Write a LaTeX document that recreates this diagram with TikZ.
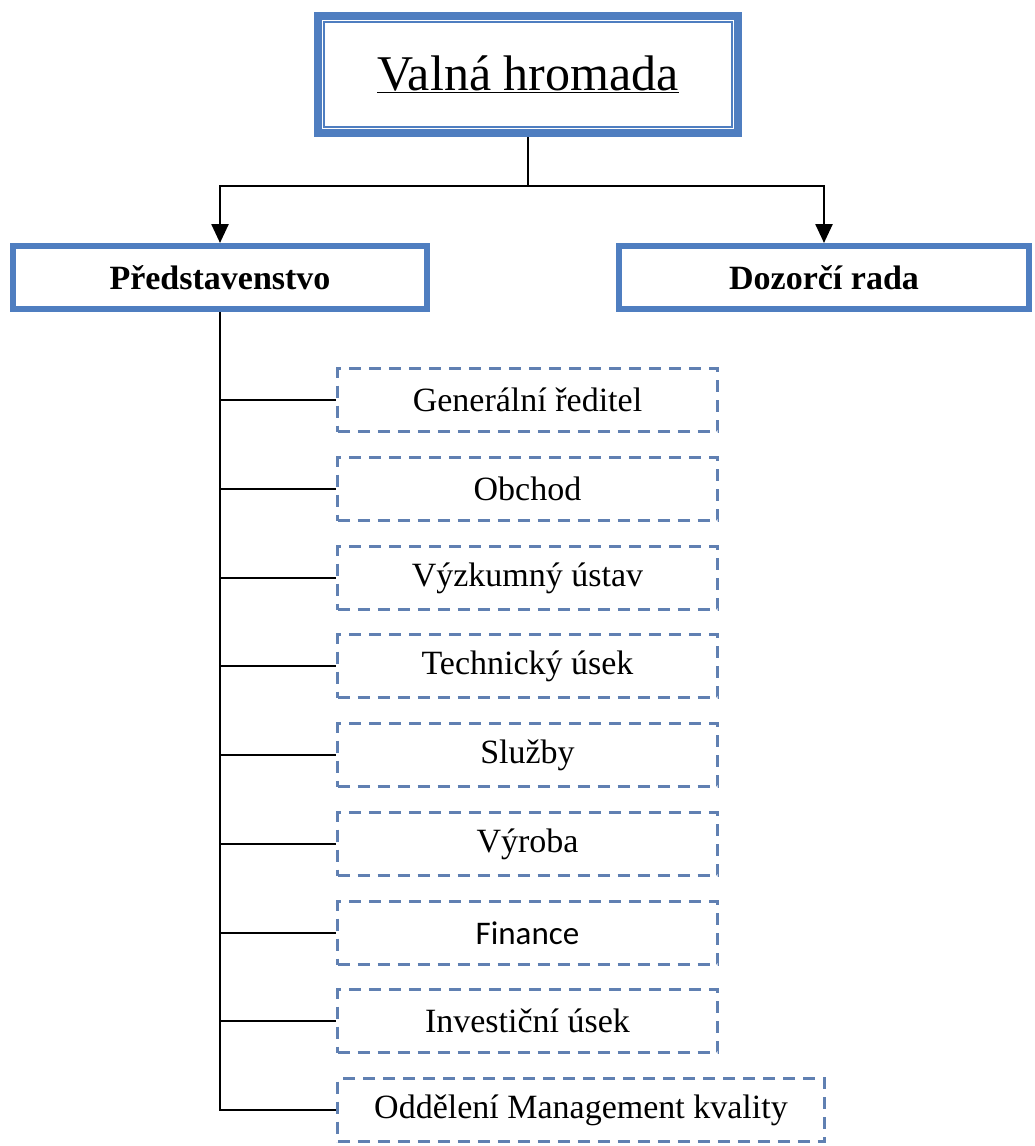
\documentclass[tikz,border=0pt]{standalone}
\usepackage{fontspec}
\setmainfont{Liberation Serif}
\newfontfamily\calibfont{Carlito}
\usetikzlibrary{arrows.meta}

\definecolor{frameblue}{RGB}{79,126,192}
\definecolor{dashblue}{RGB}{96,128,178}

\tikzset{
  topbox/.style={draw=frameblue, line width=8pt, inner sep=0pt,
    minimum width=420pt, minimum height=117pt, font=\fontsize{50}{56}\selectfont},
  headbox/.style={draw=frameblue, line width=6pt, inner sep=0pt,
    minimum height=63pt, font=\fontsize{34}{38}\selectfont\bfseries},
  unitbox/.style={draw=dashblue, line width=3pt, dash pattern=on 12pt off 8pt,
    inner sep=0pt, minimum height=63pt, minimum width=380pt,
    font=\fontsize{34}{38}\selectfont},
  link/.style={draw=black, line width=2.5pt},
  arrowlink/.style={link, -{Triangle[width=17pt,length=19pt]}}
}

\begin{document}
\begin{tikzpicture}[x=1pt, y=-1pt]
  \useasboundingbox (0,0) rectangle (1034,1146);

  % general assembly with its inner frame line
  \node[topbox] (gm) at (528,74.5) {\underline{Valná hromada}};
  \draw[frameblue, line width=2.5pt]
    ([shift={(10,10)}]gm.north west) rectangle ([shift={(-10,-10)}]gm.south east);

  % boards
  \node[headbox, minimum width=414pt] (board) at (220,277.5) {Představenstvo};
  \node[headbox, minimum width=410pt] (super) at (824,277.5) {Dozorčí rada};

  \draw[arrowlink] (gm.south) -- ++(0,49) -| (board.north);
  \draw[arrowlink] (gm.south) -- ++(0,49) -| (super.north);

  % departments
  \node[unitbox] (u1) at (527.5,400) {Generální ředitel};
  \node[unitbox] (u2) at (527.5,489) {Obchod};
  \node[unitbox] (u3) at (527.5,578) {Výzkumný ústav};
  \node[unitbox] (u4) at (527.5,666) {Technický úsek};
  \node[unitbox] (u5) at (527.5,755) {Služby};
  \node[unitbox] (u6) at (527.5,844) {Výroba};
  \node[unitbox, font=\calibfont\fontsize{33}{37}\selectfont] (u7) at (527.5,933) {Finance};
  \node[unitbox] (u8) at (527.5,1021) {Investiční úsek};
  \node[unitbox, minimum width=487pt] (u9) at (581,1110) {Oddělení Management kvality};

  \foreach \u in {u1,u2,u3,u4,u5,u6,u7,u8,u9}
    \draw[link] (board.south) |- (\u.west);
\end{tikzpicture}
\end{document}
